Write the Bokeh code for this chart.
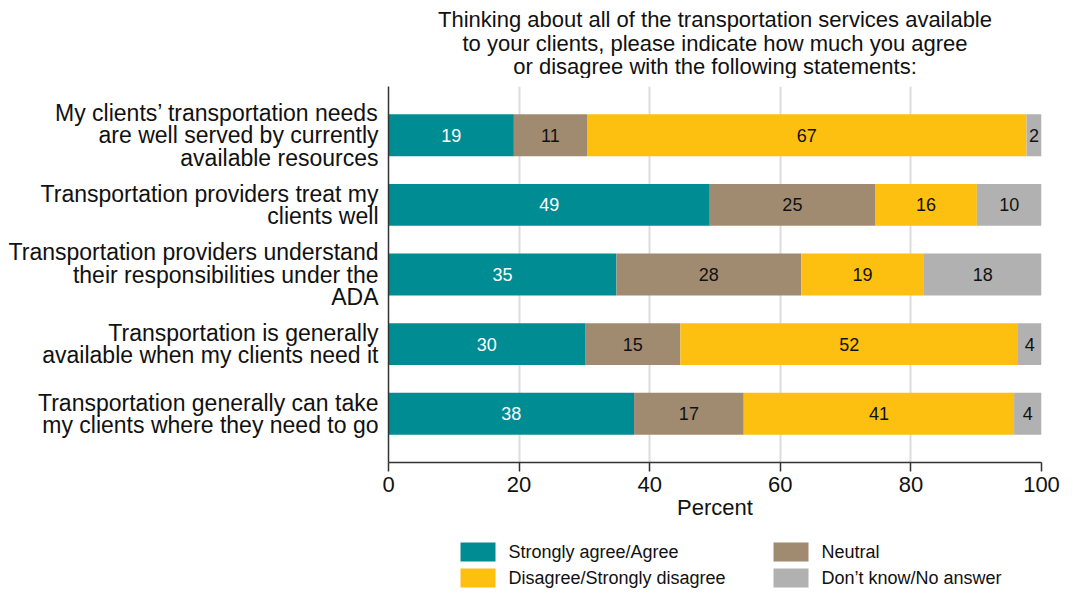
from bokeh.plotting import figure
from bokeh.models import ColumnDataSource, FixedTicker, Range1d
from bokeh.layouts import column
from bokeh.embed import file_html
from bokeh.resources import INLINE
from bokeh.core.properties import value

statements = [
    "My clients\u2019 transportation needs\nare well served by currently\navailable resources",
    "Transportation providers treat my\nclients well",
    "Transportation providers understand\ntheir responsibilities under the\nADA",
    "Transportation is generally\navailable when my clients need it",
    "Transportation generally can take\nmy clients where they need to go",
]
agree = [19.2, 49.2, 34.9, 30.1, 37.6]
neutral = [11.2, 25.3, 28.3, 14.6, 16.8]
disagree = [67.3, 15.6, 18.8, 51.7, 41.4]
dontknow = [2.3, 9.9, 18.0, 3.6, 4.2]
series_names = ["Strongly agree/Agree", "Neutral", "Disagree/Strongly disagree", "Don\u2019t know/No answer"]
series_keys = ["agree", "neutral", "disagree", "dontknow"]
colors = ["#008c93", "#a08b71", "#fdc010", "#b1b1b1"]
label_colors = ["white", "#111111", "#111111", "#111111"]
title_lines = ["Thinking about all of the transportation services available",
               "to your clients, please indicate how much you agree",
               "or disagree with the following statements:"]
x_ticks = [0, 20, 40, 60, 80, 100]

FONT = "Liberation Sans"
TXT = "#111111"
W = 1061
H_HEAD = 78
H_MAIN = 450
H_LEG = 63
BL, BR, BT, BB = 388, 20, 8, 66
n = len(statements)
ypos = [n - i for i in range(n)]

# strips above/below share the chart's frame (column aligns frames),
# so their x range is given in page pixels over that frame
strip_x = (BL, W - BR)

# ---------- header (title) ----------
h = figure(width=W, height=H_HEAD, output_backend="svg", toolbar_location=None,
           x_range=Range1d(*strip_x), y_range=Range1d(0, H_HEAD),
           min_border_left=BL, min_border_right=BR, min_border_top=0, min_border_bottom=0,
           x_axis_type=None, y_axis_type=None)
h.grid.grid_line_color = None
h.outline_line_color = None
cx = (BL + (W - BR)) / 2
line_pitch = 23.5
h.text(x=[cx] * len(title_lines),
       y=[H_HEAD - 19 - i * line_pitch for i in range(len(title_lines))],
       text=title_lines, text_align="center", text_baseline="middle",
       text_font=value(FONT), text_font_size="22px", text_color=TXT)

# ---------- main chart ----------
data = dict(y=ypos, agree=agree, neutral=neutral, disagree=disagree, dontknow=dontknow)
source = ColumnDataSource(data)

p = figure(width=W, height=H_MAIN, output_backend="svg", toolbar_location=None,
           x_range=Range1d(0, 100), y_range=Range1d(0.3, n + 0.7),
           min_border_left=BL, min_border_right=BR, min_border_top=BT,
           min_border_bottom=BB)
p.title = None

renderers = p.hbar_stack(series_keys, y="y", height=0.6, color=colors, line_color=None, source=source)

series_vals = [agree, neutral, disagree, dontknow]
for k, (vals, tc) in enumerate(zip(series_vals, label_colors)):
    xs, ys, txt = [], [], []
    for i in range(n):
        left = sum(series_vals[j][i] for j in range(k))
        xs.append(left + vals[i] / 2)
        ys.append(ypos[i])
        txt.append(format(round(vals[i]), "d"))
    p.text(x=xs, y=ys, text=txt, text_align="center", text_baseline="middle",
           text_font=value(FONT), text_font_size="18px", text_color=tc)

p.xaxis.ticker = FixedTicker(ticks=x_ticks)
p.xaxis.axis_label = "Percent"
p.xaxis.axis_label_text_font = FONT
p.xaxis.axis_label_text_font_size = "22px"
p.xaxis.axis_label_text_font_style = "normal"
p.xaxis.axis_label_text_color = TXT
p.xaxis.axis_label_standoff = 0
p.xaxis.major_label_text_font = FONT
p.xaxis.major_label_text_font_size = "22px"
p.xaxis.major_label_text_color = TXT
p.xaxis.major_label_standoff = 5
p.xaxis.major_tick_out = 9
p.xaxis.major_tick_in = 0
p.xaxis.minor_tick_line_color = None
p.xaxis.axis_line_color = "#333333"
p.xaxis.axis_line_width = 1.5
p.xaxis.major_tick_line_color = "#333333"
p.xaxis.major_tick_line_width = 1.5

p.yaxis.ticker = FixedTicker(ticks=ypos)
p.yaxis.major_label_overrides = {ypos[i]: statements[i] for i in range(n)}
p.yaxis.major_label_text_font = FONT
p.yaxis.major_label_text_font_size = "23px"
p.yaxis.major_label_text_line_height = 0.86
p.yaxis.major_label_text_color = TXT
p.yaxis.major_label_standoff = 10
p.yaxis.major_tick_out = 0
p.yaxis.major_tick_in = 0
p.yaxis.minor_tick_line_color = None
p.yaxis.axis_line_color = "#333333"
p.yaxis.axis_line_width = 1.5

p.ygrid.grid_line_color = None
p.xgrid.grid_line_color = "#dcdcdc"
p.xgrid.grid_line_width = 2
p.outline_line_color = None

# ---------- legend strip ----------
q = figure(width=W, height=H_LEG, output_backend="svg", toolbar_location=None,
           x_range=Range1d(*strip_x), y_range=Range1d(0, H_LEG),
           min_border_left=BL, min_border_right=BR, min_border_top=0, min_border_bottom=0,
           x_axis_type=None, y_axis_type=None)
q.grid.grid_line_color = None
q.outline_line_color = None
col_x = [460, 773]
row_top = [14, 40]
sw_w, sw_h = 35, 19
sx, sy, tx = [], [], []
for k in range(len(series_names)):
    r, c = divmod(k, 2)
    sx.append(col_x[c] + sw_w / 2)
    sy.append(H_LEG - row_top[r] - sw_h / 2)
    tx.append(col_x[c] + sw_w + 13)
q.rect(x=sx, y=sy, width=sw_w, height=sw_h, color=colors, line_color=None)
q.text(x=tx, y=sy, text=series_names, text_align="left", text_baseline="middle",
       text_font=value(FONT), text_font_size="18px", text_color=TXT)

open("out.html", "w").write(file_html(column(h, p, q, spacing=0), INLINE))
